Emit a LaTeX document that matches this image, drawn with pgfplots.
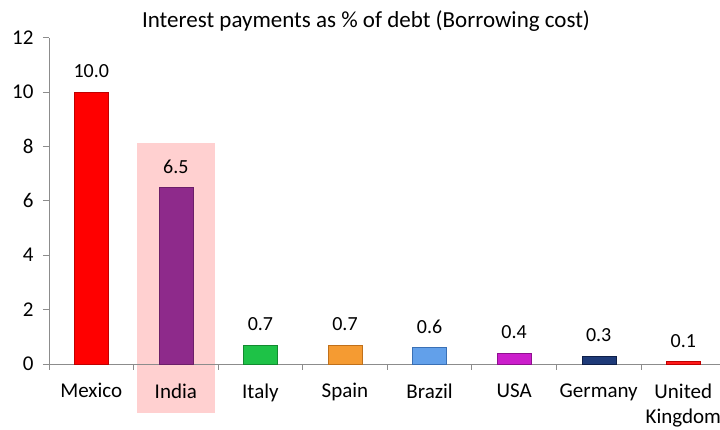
\documentclass[border=0pt]{standalone}
\usepackage{pgfplots}
\pgfplotsset{compat=1.18}
\usepackage{fontspec}
\setmainfont{Carlito}
\definecolor{axgray}{HTML}{8C8C8C}
\definecolor{pinkc}{HTML}{FFD0D0}
\definecolor{cMex}{HTML}{FF0000}\definecolor{dMex}{HTML}{C00000}
\definecolor{cInd}{HTML}{8E2A8B}\definecolor{dInd}{HTML}{6B1F68}
\definecolor{cIta}{HTML}{1EC247}\definecolor{dIta}{HTML}{138A30}
\definecolor{cSpa}{HTML}{F59B32}\definecolor{dSpa}{HTML}{C0701A}
\definecolor{cBra}{HTML}{62A0EA}\definecolor{dBra}{HTML}{3A70B5}
\definecolor{cUSA}{HTML}{CC1ECC}\definecolor{dUSA}{HTML}{8F108F}
\definecolor{cGer}{HTML}{1E3A78}\definecolor{dGer}{HTML}{0F1F48}
\definecolor{cUK}{HTML}{FF1A1A}\definecolor{dUK}{HTML}{C00000}
\begin{document}
\begin{tikzpicture}
\begin{axis}[
  set layers,
  at={(0pt,0pt)}, anchor=south west,
  scale only axis, width=671pt, height=326.4pt,
  xmin=-0.5, xmax=7.434, ymin=0, ymax=12,
  clip=false,
  axis x line*=bottom, axis y line*=left,
  axis line style={axgray, line width=0.8pt},
  tick align=outside, major tick length=6pt,
  tick style={axgray, line width=0.8pt},
  ytick={0,2,...,12},
  yticklabel style={font=\fontsize{21}{24}\selectfont, xshift=-6pt},
  /pgf/number format/assume math mode=true,
  xtick={-0.5,0.5,...,6.5},
  xticklabels={,,,,,,,},
  extra x ticks={0,1,2,3,4,5,6,7},
  extra x tick labels={Mexico,India,Italy,Spain,Brazil,USA,Germany,{United\\Kingdom}},
  extra x tick style={tick style={draw=none}},
  xticklabel style={align=center, anchor=north, font=\fontsize{21}{25}\selectfont, yshift=-10pt},
  ybar, bar width=34pt,
  nodes near coords={\pgfmathprintnumber[fixed,fixed zerofill,precision=1]{\pgfplotspointmeta}},
  every node near coord/.append style={font=\fontsize{20}{24}\selectfont, black, yshift=10.5pt},
]
\begin{pgfonlayer}{axis background}
\fill[pinkc] (axis cs:0.54,-1.8) rectangle (axis cs:1.46,8.13);
\end{pgfonlayer}
\addplot[bar shift=0pt, fill=cMex, draw=dMex] coordinates {(0,10.0)};
\addplot[bar shift=0pt, fill=cInd, draw=dInd] coordinates {(1,6.5)};
\addplot[bar shift=0pt, fill=cIta, draw=dIta] coordinates {(2,0.7)};
\addplot[bar shift=0pt, fill=cSpa, draw=dSpa] coordinates {(3,0.7)};
\addplot[bar shift=0pt, fill=cBra, draw=dBra] coordinates {(4,0.6)};
\addplot[bar shift=0pt, fill=cUSA, draw=dUSA] coordinates {(5,0.4)};
\addplot[bar shift=0pt, fill=cGer, draw=dGer] coordinates {(6,0.3)};
\addplot[bar shift=0pt, fill=cUK, draw=dUK] coordinates {(7,0.1)};
\end{axis}
\node[font=\fontsize{23}{26}\selectfont] at (317pt,343pt) {Interest payments as \% of debt (Borrowing cost)};
\pgfresetboundingbox
\path[use as bounding box] (-49pt,-66pt) rectangle (671pt,364pt);
\end{tikzpicture}
\end{document}
